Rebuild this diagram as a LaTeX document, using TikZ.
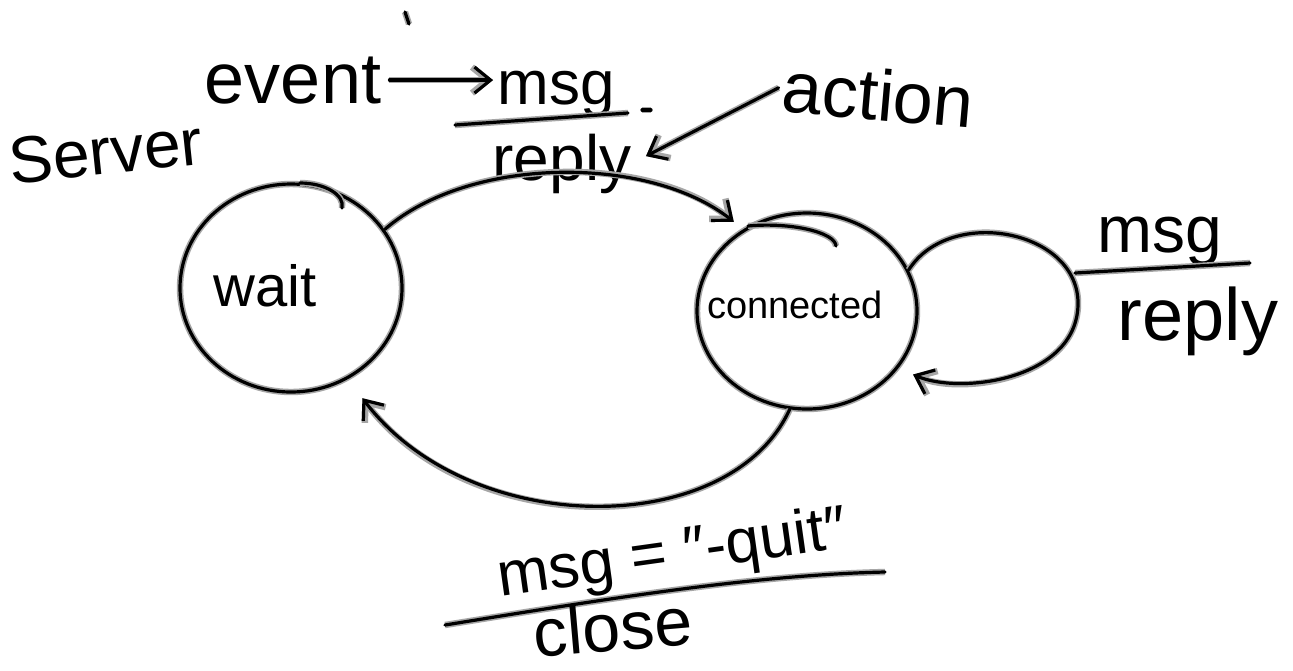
\documentclass[tikz,border=0pt]{standalone}
\usepackage{fontspec}
\setmainfont{Liberation Sans}
\usetikzlibrary{arrows.meta,shapes.geometric}
\begin{document}
\begin{tikzpicture}[x=0.5pt,y=-0.5pt,
  ink/.style={line width=1.6pt,line cap=round,line join=round,preaction={draw=gray!70,line width=3.2pt}},
  arr/.style={-{Straight Barb[length=8pt,width=13pt]}},
  lbl/.style={inner sep=0pt,anchor=base},
  state/.style={ellipse,draw,ink,inner sep=0pt}]
\useasboundingbox[fill=white] (0,0) rectangle (1293,670);

% states
\node[state,minimum width=111pt,minimum height=104pt] (wait) at (291,288) {};
\node[state,minimum width=110pt,minimum height=98pt] (conn) at (807,311) {};
\node[lbl,font=\fontsize{29}{32}\selectfont] (waitlbl) at (265,306) {wait};
\node[lbl,font=\fontsize{19}{22}\selectfont] (connlbl) at (795,318) {connected};

% small hooks on the circles
\draw[ink] (300,183) .. controls (325,183) and (345,195) .. (342,208);
\draw[ink] (748,226) .. controls (790,222) and (835,232) .. (836,246);

% legend
\node[lbl,font=\fontsize{33}{36}\selectfont,rotate=6] (server) at (108,174) {Server};
\node[lbl,font=\fontsize{36}{40}\selectfont] (event) at (293,103) {event};
\node[lbl,font=\fontsize{31}{34}\selectfont] (msga) at (556,104) {msg};
\node[lbl,font=\fontsize{32}{36}\selectfont] (replya) at (562,180) {reply};
\node[lbl,font=\fontsize{36}{40}\selectfont,rotate=-5] (action) at (876,120) {action};
\draw[ink] (455,125) -- (628,113);
\draw[ink,arr,shorten <=4pt,shorten >=2pt] (event.east) -- (msga.west |- event.east);
\draw[ink,arr,shorten <=2pt,shorten >=8pt] (action.west) -- (replya.east);
\draw[ink] (405,12) -- (409,24);
\draw[ink] (642,110) -- (651,110);

% transition wait -> connected
\draw[ink,arr,shorten >=6pt] (wait.32) .. controls (470,155) and (650,155) .. (conn.128);

% self loop on connected
\draw[ink,arr,shorten >=8pt] (conn.22) .. controls (950,205) and (1080,230) .. (1078,305)
  .. controls (1076,380) and (960,395) .. (conn.-32);
\node[lbl,font=\fontsize{33}{36}\selectfont] (msgb) at (1160,252) {msg};
\draw[ink] (1075,273) -- (1250,263);
\node[lbl,font=\fontsize{37}{40}\selectfont] (replyb) at (1198,340) {reply};

% transition connected -> wait
\draw[ink,arr,shorten >=12pt] (conn.-100) .. controls (730,540) and (470,540) .. (wait.-58);
\node[lbl,font=\fontsize{31}{34}\selectfont,rotate=8] (quit) at (675,572) {msg = ″-quit″};
\draw[ink] (445,625) .. controls (600,600) and (750,575) .. (885,572);
\node[lbl,font=\fontsize{34}{38}\selectfont,rotate=5] (close) at (615,651) {close};
\end{tikzpicture}
\end{document}
